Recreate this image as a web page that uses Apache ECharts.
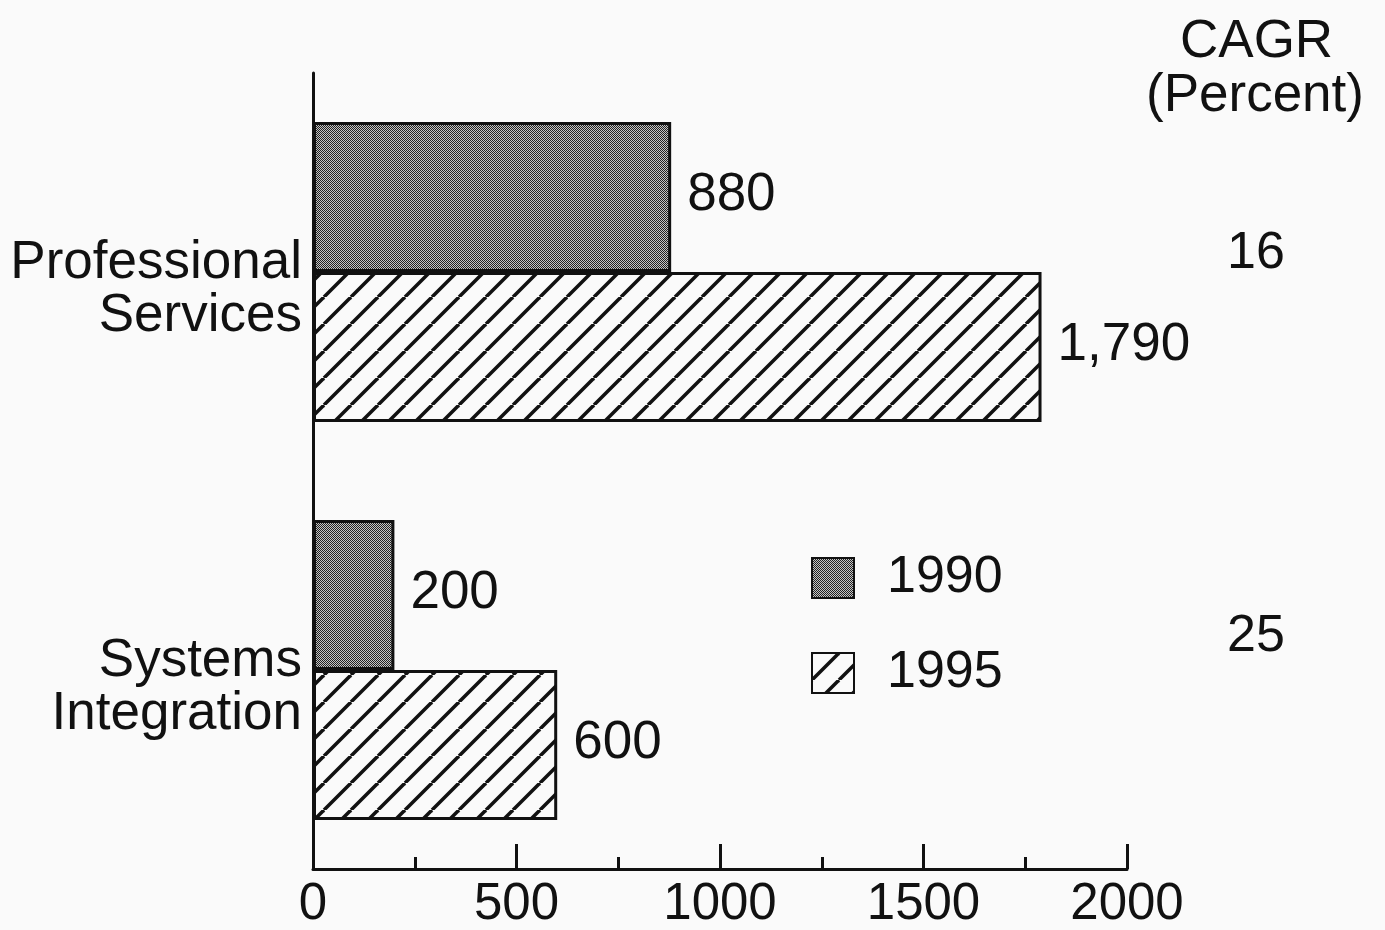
<!DOCTYPE html>
<html>
<head>
<meta charset="utf-8">
<script src="https://cdn.jsdelivr.net/npm/echarts@6/dist/echarts.min.js"></script>
<style>
  html, body { margin: 0; padding: 0; background: #fafafa; }
  #main { width: 1385px; height: 930px; }
</style>
</head>
<body>
<div id="main"></div>
<script>
var categories = ['Professional\nServices', 'Systems\nIntegration'];
var years = ['1990', '1995'];
var values1990 = [880, 200];
var values1995 = [1790, 600];
var cagr = [16, 25];
var xTicks = [0, 500, 1000, 1500, 2000];

var FONT = 'Liberation Sans, Arial, Helvetica, sans-serif';

// stipple fill for 1990
function dotPattern() {
  var c = document.createElement('canvas');
  c.width = 2; c.height = 2;
  var g = c.getContext('2d');
  g.fillStyle = '#c4c4c4';
  g.fillRect(0, 0, 2, 2);
  g.fillStyle = '#222';
  g.fillRect(0, 0, 1, 1);
  g.fillRect(1, 1, 1, 1);
  return c;
}

// diagonal hatch for 1995
function hatchPattern() {
  var s = 27;
  var c = document.createElement('canvas');
  c.width = s; c.height = s;
  var g = c.getContext('2d');
  g.fillStyle = '#fafafa';
  g.fillRect(0, 0, s, s);
  g.strokeStyle = '#111';
  g.lineWidth = 3.5;
  for (var k = -1; k <= 1; k++) {
    g.beginPath();
    g.moveTo(k * s, s);
    g.lineTo(k * s + s, 0);
    g.stroke();
  }
  return c;
}

var myChart = echarts.init(document.getElementById('main'));

var option = {
  backgroundColor: '#fafafa',
  animation: false,
  textStyle: { fontFamily: FONT, color: '#111' },
  grid: { left: 313, right: 258, top: 73, bottom: 54 },
  legend: {
    orient: 'vertical',
    left: 806,
    top: 547,
    itemWidth: 42,
    itemHeight: 40,
    itemGap: 43,
    icon: 'rect',
    data: years,
    textStyle: { fontSize: 52, fontFamily: FONT, color: '#111', padding: [0, 0, 0, 28] }
  },
  xAxis: {
    type: 'value',
    min: 0,
    max: 2000,
    interval: 500,
    axisLine: { show: true, lineStyle: { color: '#111', width: 3 } },
    axisTick: { show: true, inside: true, length: 25, lineStyle: { color: '#111', width: 3 } },
    minorTick: { show: true, splitNumber: 2, length: 12, lineStyle: { color: '#111', width: 3 } },
    splitLine: { show: false },
    axisLabel: {
      fontSize: 51, fontFamily: FONT, color: '#111', margin: 10,
      formatter: function (v) { return xTicks.indexOf(v) >= 0 ? String(v) : ''; }
    }
  },
  yAxis: {
    type: 'category',
    inverse: true,
    data: categories,
    axisLine: { show: true, lineStyle: { color: '#111', width: 3 } },
    axisTick: { show: false },
    axisLabel: {
      fontSize: 53, fontFamily: FONT, color: '#111', margin: 11,
      lineHeight: 53, align: 'right',
      // empty top line pushes the two-line label a little below the band centre
      formatter: function (v) { return '{gap|}\n' + v; },
      rich: { gap: { lineHeight: 36, fontSize: 10 } }
    }
  },
  graphic: [
    { type: 'text', left: 1180, top: 16, style: { text: 'CAGR', font: '53px ' + FONT, fill: '#111' } },
    { type: 'text', left: 1146, top: 70, style: { text: '(Percent)', font: '53px ' + FONT, fill: '#111' } },
    { type: 'text', left: 1227, top: 228, style: { text: String(cagr[0]), font: '52px ' + FONT, fill: '#111' } },
    { type: 'text', left: 1227, top: 611, style: { text: String(cagr[1]), font: '52px ' + FONT, fill: '#111' } }
  ],
  series: [
    {
      name: years[0],
      type: 'bar',
      data: values1990,
      barWidth: 150,
      barGap: '0%',
      itemStyle: { color: { image: dotPattern(), repeat: 'repeat' }, borderColor: '#111', borderWidth: 3 },
      label: {
        show: true, position: 'right', distance: 16, offset: [0, -2],
        fontSize: 53, fontFamily: FONT, color: '#111',
        formatter: function (p) { return p.value.toLocaleString('en-US'); }
      }
    },
    {
      name: years[1],
      type: 'bar',
      data: values1995,
      barWidth: 150,
      barGap: '0%',
      itemStyle: { color: { image: hatchPattern(), repeat: 'repeat' }, borderColor: '#111', borderWidth: 3 },
      label: {
        show: true, position: 'right', distance: 16, offset: [0, -2],
        fontSize: 53, fontFamily: FONT, color: '#111',
        formatter: function (p) { return p.value.toLocaleString('en-US'); }
      }
    }
  ]
};

myChart.setOption(option);
</script>
</body>
</html>
